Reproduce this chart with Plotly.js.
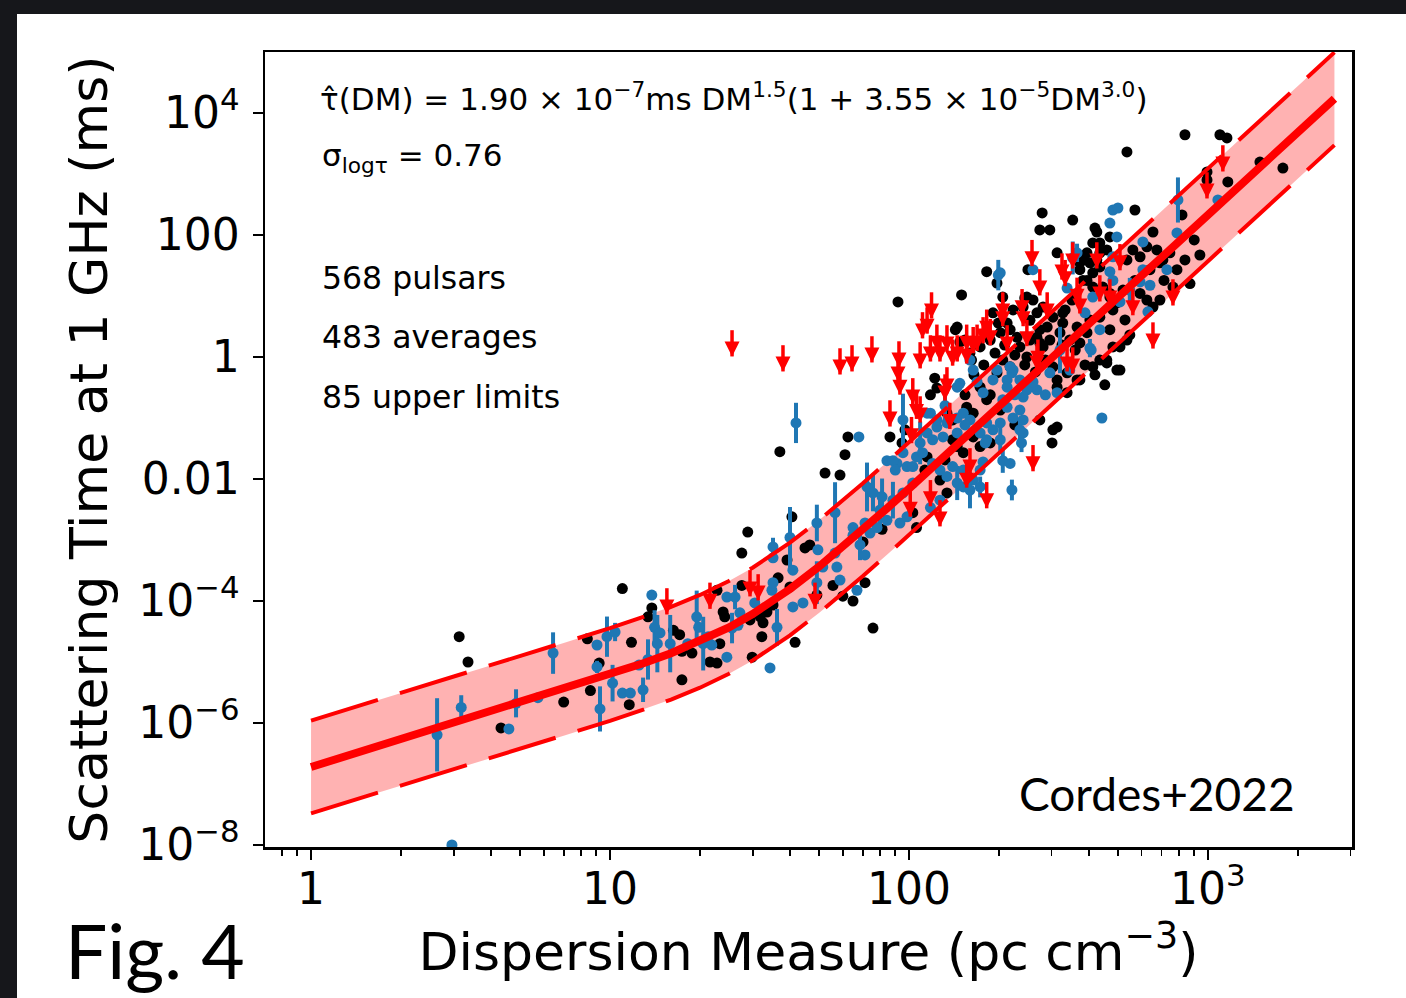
<!DOCTYPE html>
<html><head><meta charset="utf-8">
<script src="https://cdn.plot.ly/plotly-3.0.1.min.js"></script>
<style>
html,body{margin:0;padding:0;background:#16171b;width:1406px;height:998px;overflow:hidden}
#chart{position:absolute;left:17px;top:14px;width:1389px;height:984px;background:#fff}
</style></head><body><div id="chart"></div>
<script>
// fitted relation tau(DM) and the +/- sigma band (ms)
const fitDM    = [1,1.5,2,3,5,7,10,13,16,20,25,30,35,40,50,60,70,85,100,130,170,220,300,400,550,750,1000,1400,2000,2650];
const fitTau   = [1.9e-7,3.49e-7,5.376e-7,9.883e-7,2.134e-6,3.563e-6,6.22e-6,9.6e-6,1.393e-5,2.182e-5,3.693e-5,6.113e-5,9.92e-5,1.573e-4,3.653e-4,7.655e-4,1.466e-3,3.396e-3,6.935e-3,0.02225,0.07386,0.235,0.9473,3.455,14.48,58.47,213.3,969.6,4828,17125];
const fitUpper = [1.093e-6,2.008e-6,3.093e-6,5.687e-6,1.228e-5,2.05e-5,3.579e-5,5.524e-5,8.015e-5,1.2555e-4,2.125e-4,3.517e-4,5.708e-4,9.051e-4,2.102e-3,4.405e-3,8.435e-3,0.01954,0.0399,0.128,0.425,1.352,5.451,19.88,83.32,336.4,1227,5579,27780,98540];
const fitLower = [3.302e-8,6.065e-8,9.343e-8,1.7175e-7,3.709e-7,6.192e-7,1.081e-6,1.668e-6,2.421e-6,3.792e-6,6.418e-6,1.0623e-5,1.724e-5,2.734e-5,6.348e-5,1.3303e-4,2.548e-4,5.902e-4,1.2052e-3,3.867e-3,0.012836,0.04084,0.16462,0.6004,2.516,10.161,37.07,168.5,839,2976];

// individual measurements (black)
const blackDM = [3.13,3.35,4.32,7.0,11.0,8.4,11.8,9.2,8.6,11.6,13.8,13.4,16.3,17.1,17.4,17.4,18.8,21.6,22.8,23.3,22.8,24.2,23.9,27.6,29.4,32.5,32.2,31.8,35.1,33.5,29.9,27.6,28.9,40.6,39.1,44.9,46.6,36.5,40.0,41.6,49.2,55.7,60.1,65.0,75.8,71.3,70.2,81.3,91.9,150,37.0,62.5,61.1,52.4,58.8,86.4,94.8,122,124,143,148,197,206,244,254,191,202,170,134,140,156,164,164,173,187,140,152,127,134,103,106,115,182,279,274,296,353,425,470,313,250,248,223,199,254,268,290,303,320,327,351,373,394,435,412,382,412,470,435,481,394,373,268,274,218,230,173,187,194,154,160,235,248,145,206,218,197,281,303,313,338,373,412,459,481,496,303,301,313,162,173,182,145,838,1097,1158,536,1782,993,1166,1493,419,570,655,819,435,459,382,403,425,373,394,412,435,536,561,593,625,675,707,746,788,764,871,940,445,470,496,520,593,625,655,536,508,508,435,459,338,365,260,281,327,241,213,274,365,345,313,993,691,
  209,226,244,265,286,296,325,360,388,419,452,528,548,691,713,838,900,178,165,187,202,226,274,154,132,113,97,118,333,403,470,570,640];
const blackTau = [2.6e-5,1.0e-5,8.3e-7,2.2e-6,1.6e-4,2.4e-5,2.1e-5,9.6e-6,3.4e-6,2.0e-6,7.7e-5,5.5e-5,3.3e-5,2.8e-5,1.5e-5,5.1e-6,1.4e-5,1.0e-5,9.6e-6,2.0e-5,1.5e-4,5.5e-5,6.6e-5,1.8e-4,4.9e-5,4.4e-5,2.6e-5,5.5e-5,8.6e-5,6.6e-5,1.2e-5,6.1e-4,1.35e-3,2.4e-3,4.7e-4,7.4e-4,8.3e-4,2.4e-4,1.7e-4,2.1e-5,1.25e-4,1.8e-4,1.2e-4,1.0e-4,3.6e-5,2.0e-4,9.3e-4,1.5e-3,8.0,10.4,0.028,0.049,0.025,0.0125,0.0116,0.049,0.039,0.45,0.31,2.8,1.76,16.3,9.6,9.3,1.9,5.3,2.5,1.7,0.12,0.093,0.15,0.12,0.049,0.034,0.039,0.044,0.027,0.0096,0.0059,0.0028,0.0016,0.023,25,230,121,121,176,112,93,51,27,9.6,5.9,3.6,4.0,5.3,3.1,4.5,2.5,3.6,8.6,35,51,51,74,18,14,11,4.5,5.9,2.5,1.7,2.1,1.7,2.8,2.1,1.46,1.9,1.16,1.9,1.16,1.46,1.0,3.1,0.89,0.69,0.55,1.46,0.69,0.42,0.26,0.42,0.69,0.89,1.46,0.61,0.064,0.039,0.32,0.89,0.32,0.20,0.034,4400,4400,3900,2300,1250,1080,740,1570,130,257,112,213,74,57,44,35,39,27,18,24,30,39,57,44,64,57,39,51,27,14,16,47,14,9.6,7.7,12.5,11,8.6,6.6,1.9,1.46,0.61,0.89,0.8,0.55,0.42,8.6,6.6,5.3,6.6,3.6,2.8,3.1,1.9,0.071,800,35,
  1.57,1.08,0.74,0.57,0.89,1.9,1.57,1.3,0.74,0.51,0.35,4.05,2.3,8.6,18,39,83,0.74,0.51,0.24,0.135,0.077,0.093,0.24,0.0205,0.014,0.064,0.24,5.9,4.05,2.8,18,27];

// averages with uncertainties (blue); error as half-width in dex
const blueDM = [2.64,3.18,2.96,4.59,4.85,5.74,6.45,9.77,10.4,9.05,9.05,9.26,10.2,11.0,11.7,12.9,12.5,13.8,14.1,14.7,14.4,13.4,15.9,18.2,19.5,19.8,20.5,21.3,21.9,24.6,24.6,26.2,27.2,26.8,25.6,30.5,36.2,34.8,35.1,40.0,35.1,35.1,40.9,40.9,44.2,49.2,49.6,51.5,49.2,56.6,56.6,57.4,58.8,34.3,67.0,65.0,71.3,71.3,74.1,41.9,68.0,72.4,75.8,81.3,84.4,91.2,95.5,98.5,95.5,103,106,111,118,124,130,115,120,145,152,160,148,160,164,177,191,197,213,223,235,254,268,182,191,202,213,223,235,241,238,206,218,221,140,152,164,173,120,127,134,103,95.5,118,127,145,160,173,177,78.2,84.4,93.3,98.5,65.0,199,260,470,481,353,338,412,388,470,481,320,296,313,407,442,248,221,260,213,169,145,241,235,115,124,134,145,173,182,88.4,88.4,152,365,500,496,794,1080,788,606,481,606,593,640,729,508,630,403,218,206,241,202,
  132,154,180,202,226,286,345,435,548,109,90,80,68.6];
const blueTau = [6.4e-7,1.8e-6,1.0e-8,8.0e-7,2.1e-6,2.6e-6,1.4e-5,2.6e-5,3.1e-5,1.9e-5,8.3e-6,1.7e-6,4.5e-6,3.1e-6,3.1e-6,3.5e-6,8.9e-6,1.25e-4,3.7e-5,3.0e-5,2.0e-5,1.1e-5,2.0e-5,2.0e-5,5.5e-5,3.7e-5,2.0e-5,2.6e-5,1.9e-5,1.2e-5,1.16e-4,1.16e-4,6.4e-5,4.0e-5,3.6e-5,9.3e-5,3.7e-5,1.5e-4,2.0e-4,1.1e-3,7.7e-4,5.1e-4,3.2e-4,8.0e-5,9.3e-5,1.9e-3,6.9e-4,3.6e-4,2.0e-4,2.8e-3,6.1e-4,3.6e-4,2.2e-4,8.0e-6,1.5e-4,1.2e-3,1.9e-3,5.7e-4,1.3e-3,0.083,0.049,7.4e-3,5.9e-3,5.1e-3,0.020,0.018,0.027,0.016,0.093,0.016,0.023,0.027,0.12,0.071,0.049,0.057,0.044,0.10,0.12,0.093,0.37,0.89,0.61,0.26,0.42,0.61,0.42,0.61,0.42,0.37,0.29,0.083,0.064,0.083,0.15,0.10,0.135,0.057,0.039,0.020,0.018,6.6e-3,0.016,0.014,0.0096,0.014,0.018,0.014,0.011,0.0086,0.0059,0.0034,0.0045,0.0086,0.0066,0.0074,0.019,0.0016,0.0021,0.0019,0.0024,0.0016,22,27,157,257,42,13.5,9.6,5.3,25,18,1.3,0.55,0.26,1.3,0.10,0.29,0.55,0.39,0.32,0.39,0.32,0.22,0.064,0.12,0.093,0.083,0.057,0.057,0.044,0.020,0.0045,0.0074,51,277,93,375,375,108,77,44,27,17,15,27,8.0,5.5,1.4,0.69,0.20,0.093,24,
  0.16,0.077,0.039,0.044,0.24,0.24,0.61,2.8,12.5,0.039,0.014,0.0031,8.3e-4];
const blueErrDex = [0.6,0.2,0,0,0.23,0,0.34,0.33,0.15,0,0.1,0.37,0.3,0,0,0.2,0,0.08,0.28,0,0.47,0.33,0.47,0,0.43,0,0.44,0,0,0,0,0.2,0,0,0.25,0,0.3,0,0,0.5,0.15,0,0,0,0,0.3,0,0,0.35,0.5,0,0,0,0,0,0,0,0,0,0.33,0,0.4,0.3,0.3,0,0,0,0,0.43,0,0,0,0,0,0,0,0,0,0,0,0,0,0,0,0,0,0,0,0,0,0,0,0,0,0,0,0,0,0.15,0.2,0,0.17,0,0,0,0,0,0,0,0,0,0,0,0.28,0.3,0.17,0,0,0,0,0,0,0.25,0,0,0,0.27,0,0,0,0,0,0.38,0,0,0,0,0,0,0,0,0,0,0,0.2,0,0,0,0,0,0,0,0.3,0,0.15,0,0,0.37,0,0,0,0,0,0,0,0,0,0,0.15,0,0,0,0,
  0.3,0,0,0.2,0,0,0,0,0.2,0.35,0,0.3,0.25];

// upper limits (red arrows); value = top of the arrow
const limitDM  = [15.5,21.6,29.4,31.3,48.5,25.6,37.9,58.8,64.5,75.2,92.6,91.9,93.3,86.4,109,118,119,111,127,134,145,156,169,182,187,206,239,258,103,106,102,134,118,127,182,260,160,101,274,325,333,353,365,373,425,290,241,206,177,164,156,115,124,140,109,132,137,268,338,353,156,213,248,435,470,508,561,764,655,270,1122,993];
const limitTau = [1.62e-4,2.0e-4,3.2e-4,2.75e-4,2.0e-4,2.75,1.56,1.39,1.56,2.19,1.81,1.07,0.65,0.195,1.75,2.27,11.5,5.43,2.27,3.32,2.27,3.4,3.4,6.0,4.2,11.5,13,83,0.45,0.26,0.104,0.68,0.0096,0.0045,0.0089,0.036,0.032,0.0065,27.5,50,39,76,20,13.9,76,11.5,8.6,8.6,4.5,3.1,2.1,6.5,3.4,1.94,0.227,0.52,0.178,1.62,1.56,1.44,0.0194,3.32,4.05,21.9,18.8,71,13,18.8,3.7,1.94,2960,1070];

// axes
const xTickVals = [1,10,100,1000];
const xTickText = ['1','10','100','10<sup>3</sup>'];
const xMinorVals = [0.8,0.9,2,3,4,5,6,7,8,9,20,30,40,50,60,70,80,90,200,300,400,500,600,700,800,900,2000,3000];
const yTickVals = [1e4,100,1,0.01,1e-4,1e-6,1e-8];
const yTickText = ['10<sup>4</sup>','100','1','0.01','10<sup>−4</sup>','10<sup>−6</sup>','10<sup>−8</sup>'];

const RED = '#ff0000', BLUE = '#1f77b4';
const ARROW_DEX = 0.43; // arrow length in decades
const errPlus  = blueTau.map((t,i)=> t*(Math.pow(10,blueErrDex[i])-1));
const errMinus = blueTau.map((t,i)=> t*(1-Math.pow(10,-blueErrDex[i])));
const stemMinus = limitTau.map(t=> t*(1-Math.pow(10,-ARROW_DEX)));
const tipTau = limitTau.map(t=> t*Math.pow(10,-ARROW_DEX));

const traces = [
  {x:fitDM, y:fitLower, mode:'lines', line:{width:0,color:'rgba(0,0,0,0)'}, hoverinfo:'skip', showlegend:false},
  {x:fitDM, y:fitUpper, mode:'lines', fill:'tonexty', fillcolor:'rgba(255,0,0,0.3)', line:{width:0,color:'rgba(0,0,0,0)'}, hoverinfo:'skip', showlegend:false},
  {x:blackDM, y:blackTau, mode:'markers', marker:{color:'#000',size:11}, showlegend:false},
  {x:blueDM, y:blueTau, mode:'markers', marker:{color:BLUE,size:11},
   error_y:{type:'data', symmetric:false, array:errPlus, arrayminus:errMinus, color:BLUE, thickness:4, width:0}, showlegend:false},
  {x:fitDM, y:fitTau, mode:'lines', line:{color:RED,width:8}, showlegend:false},
  {x:fitDM, y:fitUpper, mode:'lines', line:{color:RED,width:4,dash:'70px,23px'}, showlegend:false},
  {x:fitDM, y:fitLower, mode:'lines', line:{color:RED,width:4,dash:'70px,23px'}, showlegend:false},
  // arrow stems
  {x:limitDM, y:limitTau, mode:'markers', marker:{size:1,color:'rgba(0,0,0,0)'},
   error_y:{type:'data', symmetric:false, array:limitTau.map(()=>0), arrayminus:stemMinus, color:RED, thickness:3.5, width:0}, showlegend:false},
  // arrow heads
  {x:limitDM, y:tipTau, mode:'markers', marker:{symbol:'arrow-down', size:15, color:RED, line:{width:0}}, showlegend:false}
];

const F = 'DejaVu Sans';
const axisCommon = {type:'log', showgrid:false, zeroline:false, showline:true, mirror:true,
  linecolor:'#000', linewidth:2.5, ticks:'outside', ticklen:10, tickwidth:2.5, tickcolor:'#000',
  tickfont:{family:F, size:44, color:'#000'}, tickmode:'array'};

const layout = {
  width:1389, height:984,
  margin:{l:248, r:54, t:38, b:151},
  paper_bgcolor:'#fff', plot_bgcolor:'#fff',
  xaxis: Object.assign({}, axisCommon, {
    range:[-0.154, 3.482], tickvals:xTickVals, ticktext:xTickText, ticklabelstandoff:-8,
    minor:{tickmode:'array', tickvals:xMinorVals, ticks:'outside', ticklen:6, tickwidth:1.8, tickcolor:'#000'},
    title:{text:'Dispersion Measure (pc cm<sup>−3</sup>)', font:{family:F, size:52, color:'#000'}, standoff:16}
  }),
  yaxis: Object.assign({}, axisCommon, {
    range:[-8.033, 5.0], tickvals:yTickVals, ticktext:yTickText, ticklabelstandoff:4,
    title:{text:'Scattering Time at 1 GHz (ms)', font:{family:F, size:52, color:'#000'}, standoff:14}
  }),
  annotations:[
    {xref:'paper', yref:'paper', x:0.0488, y:0.943, xanchor:'left', yanchor:'middle', showarrow:false,
     text:'τ̂(DM) = 1.90 × 10<sup>−7</sup>ms DM<sup>1.5</sup>(1 + 3.55 × 10<sup>−5</sup>DM<sup>3.0</sup>)', font:{family:F, size:31, color:'#000'}},
    {xref:'paper', yref:'paper', x:0.0506, y:0.8667, xanchor:'left', yanchor:'middle', showarrow:false,
     text:'σ<sub>logτ</sub> = 0.76', font:{family:F, size:31, color:'#000'}},
    {xref:'paper', yref:'paper', x:0.0506, y:0.7157, xanchor:'left', yanchor:'middle', showarrow:false,
     text:'568 pulsars', font:{family:F, size:31.5, color:'#000'}},
    {xref:'paper', yref:'paper', x:0.0506, y:0.6415, xanchor:'left', yanchor:'middle', showarrow:false,
     text:'483 averages', font:{family:F, size:31.5, color:'#000'}},
    {xref:'paper', yref:'paper', x:0.0506, y:0.566, xanchor:'left', yanchor:'middle', showarrow:false,
     text:'85 upper limits', font:{family:F, size:31.5, color:'#000'}},
    {xref:'paper', yref:'paper', x:0.949, y:0.0679, xanchor:'right', yanchor:'middle', showarrow:false,
     text:'Cordes+2022', font:{family:'Lato', size:46, color:'#000'}},
    {xref:'paper', yref:'paper', x:-0.186, y:-0.1887, xanchor:'left', yanchor:'bottom', showarrow:false,
     text:'Fig. 4', font:{family:'Lato', size:75, color:'#000'}}
  ]
};

Plotly.newPlot('chart', traces, layout, {displayModeBar:false, staticPlot:true});
</script></body></html>
